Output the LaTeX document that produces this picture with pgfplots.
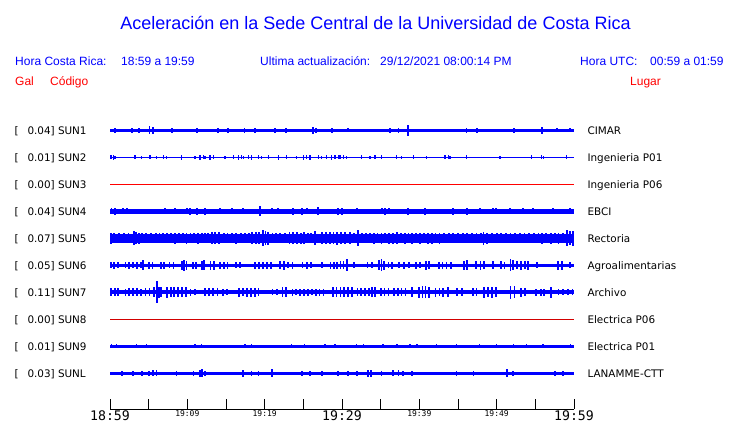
\documentclass[border=0pt]{standalone}
\usepackage{pgfplots}
\pgfplotsset{compat=1.18}
\usepackage{fontspec}
\setmainfont{Liberation Sans}
\newfontfamily\dvs{DejaVu Sans}
\newfontfamily\dvsm{DejaVu Sans Mono}
\definecolor{tblue}{RGB}{0,0,255}
\definecolor{tred}{RGB}{255,0,0}
\definecolor{dred}{RGB}{210,0,0}
\pgfplotsset{
  spk/.style={draw=none, mark=none, error bars/.cd, y dir=both, y explicit, error mark=none,
    error bar style={draw=tblue, line width=1.8pt}},
  spkthin/.style={draw=none, mark=none, error bars/.cd, y dir=both, y explicit, error mark=none,
    error bar style={draw=tblue, line width=1.2pt}},
}
\newcommand{\sta}[4]{% baseline y, number, code, place
  \node[anchor=base west, inner sep=0pt, font=\dvs\fontsize{10.4}{12}\selectfont] at (14.3pt,-#1pt) {[};
  \node[anchor=base west, inner sep=0pt, font=\dvs\fontsize{10.4}{12}\selectfont] at (27.3pt,-#1pt) {#2] #3};
  \node[anchor=base west, inner sep=0pt, font=\dvs\fontsize{10.4}{12}\selectfont] at (587.3pt,-#1pt) {#4};
}
\begin{document}
\begin{tikzpicture}
\path[use as bounding box, fill=white] (0,0) rectangle (740pt,-423pt);
% titles
\node[anchor=base, inner sep=0pt, text=tblue, font=\fontsize{18}{21}\selectfont] at (375.5pt,-29.3pt) {Aceleración en la Sede Central de la Universidad de Costa Rica};
\begin{scope}[every node/.style={anchor=base west, inner sep=0pt, font=\fontsize{12}{14}\selectfont}]
\node[text=tblue] at (15pt,-65pt) {Hora Costa Rica:};
\node[text=tblue] at (121pt,-65pt) {18:59 a 19:59};
\node[text=tblue] at (260pt,-65pt) {Ultima actualización:};
\node[text=tblue] at (380pt,-65pt) {29/12/2021 08:00:14 PM};
\node[text=tblue] at (580pt,-65pt) {Hora UTC:};
\node[text=tblue] at (650pt,-65pt) {00:59 a 01:59};
\node[text=tred] at (15pt,-85pt) {Gal};
\node[text=tred] at (50pt,-85pt) {Código};
\node[text=tred] at (630pt,-85pt) {Lugar};
\end{scope}
\sta{134.0}{0.04}{SUN1}{CIMAR}
\sta{161.0}{0.01}{SUN2}{Ingenieria P01}
\sta{188.0}{0.00}{SUN3}{Ingenieria P06}
\sta{215.0}{0.04}{SUN4}{EBCI}
\sta{242.0}{0.07}{SUN5}{Rectoria}
\sta{269.0}{0.05}{SUN6}{Agroalimentarias}
\sta{296.0}{0.11}{SUN7}{Archivo}
\sta{323.0}{0.00}{SUN8}{Electrica P06}
\sta{350.0}{0.01}{SUN9}{Electrica P01}
\sta{377.0}{0.03}{SUNL}{LANAMME-CTT}
\begin{axis}[
  at={(110pt,-409pt)}, anchor=south west,
  scale only axis, width=464pt, height=300pt,
  xmin=0, xmax=60, ymin=-409, ymax=-109,
  clip=false,
  axis y line=none, axis x line=bottom,
  x axis line style={-, line width=1pt, black},
  tick align=inside, major tick length=10pt, minor tick length=10pt,
  tick style={black, line width=1pt},
  xtick={0,30,60},
  xticklabels={18:59,19:29,19:59},
  xticklabel style={anchor=base, inner sep=0pt, text depth=0pt, yshift=-11.2pt, font=\dvsm\fontsize{13.2}{15}\selectfont},
  minor xtick={5,15,25,35,45,55},
  extra x ticks={10,20,40,50},
  extra x tick labels={\raisebox{4.2pt}{19:09},\raisebox{4.2pt}{19:19},\raisebox{4.2pt}{19:39},\raisebox{4.2pt}{19:49}},
  extra x tick style={xticklabel style={font=\dvsm\fontsize{8}{9}\selectfont}},
]
% SUN1
\addplot[tblue, line width=3.2pt] coordinates {(0,-130.3) (60,-130.3)};
\addplot[spk] table[x index=0, y expr=-130.3, y error index=1, row sep=\\] {
0.6 2.2\\ 2.8 2.5\\ 3.7 2.2\\ 5.1 4\\ 5.6 3.5\\ 8.0 2.2\\ 11.3 2.5\\ 14.0 2.2\\ 15.3 2.5\\ 17.4 2.2\\ 18.7 2.2\\ 21.3 2.2\\ 22.8 2.5\\ 26.3 3.5\\ 26.6 2.5\\ 28.7 2.2\\ 30.8 2\\ 36.2 2.2\\ 37.3 2.2\\ 38.5 5.3\\ 46.1 2.5\\ 47.5 2.5\\ 52.2 2.2\\ 55.9 3.5\\ 57.8 2\\ 59.5 2\\
};
% SUN2
\addplot[tblue, line width=1.4pt] coordinates {(0,-157.3) (60,-157.3)};
\addplot[spkthin] table[x index=0, y expr=-157.3, y error index=1, row sep=\\] {
0.13 2\\ 0.43 2.2\\ 0.65 1.8\\ 3.23 2\\ 4.09 1.8\\ 5.17 2\\ 6.03 1.8\\ 6.89 2\\ 7.33 1.8\\ 9.27 2.2\\ 10.99 1.8\\ 11.64 2.2\\ 12.07 2\\ 12.28 1.8\\ 12.93 2.2\\ 13.36 2\\ 14.87 1.8\\ 15.94 2\\ 16.59 2.2\\ 17.02 2\\ 17.24 1.8\\ 17.89 2\\ 18.32 2.2\\ 19.18 2\\ 19.61 1.8\\ 20.47 2\\ 21.77 2.2\\ 22.84 2\\ 24.14 1.8\\ 25.0 2.2\\ 25.43 2\\ 25.86 2.2\\ 26.94 2\\ 27.37 1.8\\ 28.01 2\\ 28.66 2.2\\ 29.09 2\\ 29.52 2\\ 29.74 2\\ 30.17 2\\ 30.6 1.8\\ 32.54 2\\ 33.62 1.8\\ 34.27 2\\ 35.13 2\\ 37.07 2\\ 37.71 1.8\\ 39.22 2\\ 40.95 1.8\\ 43.32 2\\ 43.75 2\\ 43.96 1.8\\ 46.12 2\\ 50.43 1.8\\ 54.52 2\\ 55.82 2\\ 56.03 1.8\\ 59.05 2\\
};
% SUN3
\addplot[tred, line width=1pt] coordinates {(0,-184.3) (60,-184.3)};
% SUN4
\addplot[tblue, line width=4.4pt] coordinates {(0,-211.3) (60,-211.3)};
\addplot[spk] table[x index=0, y expr=-211.3, y error index=1, row sep=\\] {
0.2 3\\ 0.65 3.5\\ 1.72 3\\ 2.15 3\\ 2.58 2.8\\ 7.11 3\\ 7.76 2.8\\ 8.4 3\\ 9.91 3\\ 10.34 3.2\\ 11.21 3.5\\ 12.28 3.5\\ 14.22 3\\ 14.65 2.8\\ 15.73 3\\ 17.24 3\\ 19.4 5\\ 20.9 3\\ 21.76 3\\ 23.7 3.2\\ 24.78 3.5\\ 25.43 3\\ 26.94 4\\ 29.52 3.5\\ 29.96 3.5\\ 31.9 3\\ 35.13 3\\ 35.56 3.5\\ 36.12 3\\ 38.58 3.5\\ 40.73 3.5\\ 44.4 3.5\\ 46.12 3.5\\ 47.84 3\\ 49.48 3\\ 49.91 3\\ 51.72 3\\ 53.45 3\\ 54.74 3\\ 57.32 3\\ 59.48 3\\
};
% SUN5
\addplot[tblue, line width=9.2pt] coordinates {(0,-238.1) (60,-238.1)};
\addplot[spk] table[x index=0, y expr=-238.1, y error index=1, row sep=\\] {
0.1 5.5\\ 0.5 5\\ 1.2 5\\ 1.8 5.2\\ 2.4 5\\ 3.15 7\\ 3.4 6\\ 3.8 5.5\\ 4.1 5\\ 4.7 5\\ 5.3 5.2\\ 5.9 5\\ 6.4 5.2\\ 6.9 4.9\\ 7.4 5.3\\ 7.9 5\\ 8.4 5.5\\ 8.9 5\\ 9.4 5.3\\ 9.9 5.5\\ 10.4 5\\ 10.9 5.2\\ 11.4 5.6\\ 11.9 5\\ 12.3 5.3\\ 12.7 5\\ 13.2 6\\ 13.6 6.2\\ 14.1 5.8\\ 14.7 5\\ 15.2 5.2\\ 15.8 5\\ 16.3 5.4\\ 16.9 5\\ 17.5 5.3\\ 18.0 5\\ 18.4 6\\ 18.9 6.3\\ 19.3 6\\ 19.83 8\\ 20.1 7\\ 20.4 6.5\\ 21.0 5\\ 21.5 5.3\\ 22.0 5\\ 22.6 5.2\\ 23.2 6\\ 23.7 5.8\\ 24.2 6.2\\ 24.7 5.6\\ 25.1 6\\ 25.6 5\\ 26.0 5\\ 26.5 7\\ 27.4 6\\ 27.9 5.8\\ 28.4 6.2\\ 28.9 6\\ 29.4 6.4\\ 29.9 6\\ 30.4 5.8\\ 31.0 6\\ 31.5 5.2\\ 32.1 8\\ 32.6 5\\ 33.1 5.2\\ 33.6 5\\ 34.1 5.5\\ 34.6 5.3\\ 35.1 5.6\\ 35.6 5.2\\ 36.1 5.5\\ 36.6 5.4\\ 37.1 5.8\\ 37.6 5.2\\ 38.1 5.5\\ 38.6 5.3\\ 39.1 5.6\\ 39.6 5.3\\ 40.1 5.5\\ 40.6 5.2\\ 41.1 5.5\\ 41.6 5.6\\ 42.1 5.3\\ 42.6 5.5\\ 43.2 5\\ 43.8 5.2\\ 44.4 5\\ 45.0 5.3\\ 45.6 5\\ 46.2 5.2\\ 46.8 5\\ 47.4 5.3\\ 48.0 5.2\\ 48.3 6.5\\ 48.8 5.5\\ 49.4 5\\ 50.0 5.3\\ 50.6 5\\ 51.2 5.2\\ 51.8 5\\ 52.4 5.3\\ 53.0 5\\ 53.6 5.2\\ 54.2 5\\ 54.8 5.2\\ 55.4 5\\ 55.9 5.5\\ 56.4 5.3\\ 57.0 5.6\\ 57.5 5.2\\ 58.0 5.4\\ 58.6 5\\ 59.05 8\\ 59.5 7\\ 59.9 7.5\\
};
% SUN6
\addplot[tblue, line width=3.6pt] coordinates {(0,-265.3) (60,-265.3)};
\addplot[spk] table[x index=0, y expr=-265.3, y error index=1, row sep=\\] {
0.1 3\\ 0.5 3.2\\ 1.0 3\\ 2.0 3\\ 2.5 3.3\\ 3.0 3\\ 3.5 3.2\\ 4.0 3\\ 4.3 5\\ 5.0 3.5\\ 5.5 3.5\\ 6.6 3.5\\ 7.0 3.2\\ 7.7 3\\ 8.2 3.2\\ 9.3 4.5\\ 9.6 5.5\\ 9.9 4.5\\ 10.7 3.5\\ 11.1 3.3\\ 11.9 4.5\\ 12.2 5\\ 13.0 4.5\\ 13.4 4.3\\ 14.2 3.5\\ 14.7 3.3\\ 15.2 3.5\\ 16.3 3\\ 16.8 3\\ 18.8 3.5\\ 19.3 3.3\\ 19.8 3.6\\ 20.3 3.3\\ 20.8 3.5\\ 22.0 4\\ 22.5 4.2\\ 23.0 3\\ 23.6 3.2\\ 24.9 3\\ 25.5 3.2\\ 26.0 3\\ 27.4 3\\ 28.5 3.5\\ 29.0 3.3\\ 29.4 3.6\\ 29.8 4\\ 30.2 4\\ 30.6 6\\ 31.6 3\\ 33.3 3\\ 33.9 3\\ 34.8 5\\ 35.1 6\\ 35.4 4.5\\ 36.0 3\\ 36.5 3.2\\ 37.4 3\\ 38.0 3.2\\ 38.7 3\\ 39.6 3.3\\ 40.1 3\\ 40.9 4.5\\ 41.3 4\\ 42.5 3.5\\ 43.0 3.3\\ 43.5 3.6\\ 44.1 3.3\\ 45.8 4.5\\ 46.2 5\\ 47.3 4\\ 47.9 4.2\\ 48.4 4\\ 49.5 4\\ 50.6 4\\ 51.0 3.8\\ 51.8 6\\ 52.1 5\\ 52.6 4\\ 53.1 4.2\\ 53.7 4\\ 54.1 4.5\\ 55.2 3\\ 57.9 4.5\\ 58.4 4.2\\ 59.5 3\\
};
% SUN7
\addplot[tblue, line width=4.6pt] coordinates {(0,-292.1) (60,-292.1)};
\addplot[spk] table[x index=0, y expr=-292.1, y error index=1, row sep=\\] {
0.1 4\\ 0.6 3.8\\ 1.0 4\\ 2.0 3.5\\ 2.5 4\\ 3.0 3.7\\ 3.5 4\\ 4.0 3.5\\ 4.6 4\\ 5.1 3.8\\ 5.7 5\\ 6.04 11.3\\ 6.3 5.5\\ 6.6 5\\ 7.4 5.5\\ 7.9 5\\ 8.3 5\\ 8.8 5.2\\ 9.3 4.8\\ 9.8 5\\ 10.4 3.5\\ 11.0 3.3\\ 12.3 4\\ 12.8 4.2\\ 13.3 4\\ 13.9 3.8\\ 14.6 3.5\\ 15.1 3.3\\ 16.7 4.5\\ 17.2 4.3\\ 17.7 4.6\\ 18.2 4.4\\ 18.7 4.5\\ 19.2 4.3\\ 21.0 3\\ 21.6 3\\ 22.3 5\\ 22.8 5.2\\ 23.6 3.5\\ 24.1 3.3\\ 24.6 3.6\\ 25.1 3.4\\ 25.6 3.5\\ 26.1 3.3\\ 26.6 3.6\\ 27.1 3.4\\ 27.6 3.5\\ 28.8 5\\ 29.3 5.3\\ 29.8 5\\ 30.3 4.8\\ 30.8 5\\ 31.3 4.7\\ 32.0 4\\ 32.5 4.2\\ 33.0 3.9\\ 33.5 4\\ 33.9 5\\ 34.3 4.7\\ 35.0 4\\ 35.5 4.2\\ 36.0 4\\ 36.7 4\\ 37.2 4.1\\ 37.7 3.9\\ 38.2 4\\ 39.1 5\\ 40.0 5.5\\ 40.4 6\\ 40.8 6\\ 41.2 5.5\\ 42.1 4.5\\ 42.6 4.3\\ 43.1 4.5\\ 43.7 5\\ 44.9 4\\ 45.5 3.8\\ 46.9 4\\ 47.4 4\\ 48.4 5.5\\ 48.9 5.3\\ 49.4 5.6\\ 49.9 5.2\\ 51.8 6.5\\ 52.3 6.2\\ 53.1 4.5\\ 53.7 4.3\\ 55.1 3.5\\ 55.7 3.4\\ 56.1 3.5\\ 57.0 5.5\\ 58.0 3\\ 58.6 3\\ 59.2 3.2\\ 59.8 3\\
};
% SUN8
\addplot[dred, line width=1pt] coordinates {(0,-319.3) (60,-319.3)};
% SUN9
\addplot[tblue, line width=2.8pt] coordinates {(0,-346.3) (60,-346.3)};
\addplot[spkthin] table[x index=0, y expr=-346.3, y error index=1, row sep=\\] {
0.22 2\\ 0.86 2\\ 3.45 2\\ 4.74 2\\ 10.99 2\\ 11.85 2\\ 17.46 2\\ 18.32 2\\ 23.5 2\\ 25.2 2\\ 27.8 2\\ 29.1 2\\ 31.9 2\\ 32.8 2\\ 35.3 2\\ 37.1 2\\ 38.8 2\\ 39.7 2\\ 42.2 2\\ 44.8 2\\ 47.8 2\\ 50.0 2\\ 52.2 2\\ 53.9 2\\ 56.0 2\\ 59.5 2\\
};
% SUNL
\addplot[tblue, line width=3.2pt] coordinates {(0,-373.1) (60,-373.1)};
\addplot[spk] table[x index=0, y expr=-373.1, y error index=1, row sep=\\] {
1.5 2.5\\ 3.0 2.5\\ 4.1 2.5\\ 5.0 2.5\\ 5.6 3\\ 6.0 3\\ 8.6 2.5\\ 10.8 2.5\\ 11.6 3.5\\ 11.85 4\\ 12.3 2.5\\ 17.2 3.5\\ 18.3 2.5\\ 19.2 2.5\\ 20.9 4\\ 24.8 2.5\\ 25.9 2.5\\ 27.4 2.5\\ 29.5 2.5\\ 30.8 2.5\\ 31.9 2.5\\ 33.4 3.5\\ 33.8 3.5\\ 35.1 2.5\\ 36.6 3\\ 37.3 3\\ 37.9 2.5\\ 39.0 2.5\\ 44.8 2.5\\ 47.0 2.5\\ 51.3 4\\ 52.1 2.5\\ 57.5 2.5\\ 58.6 2.5\\
};
\end{axis}
\end{tikzpicture}
\end{document}
